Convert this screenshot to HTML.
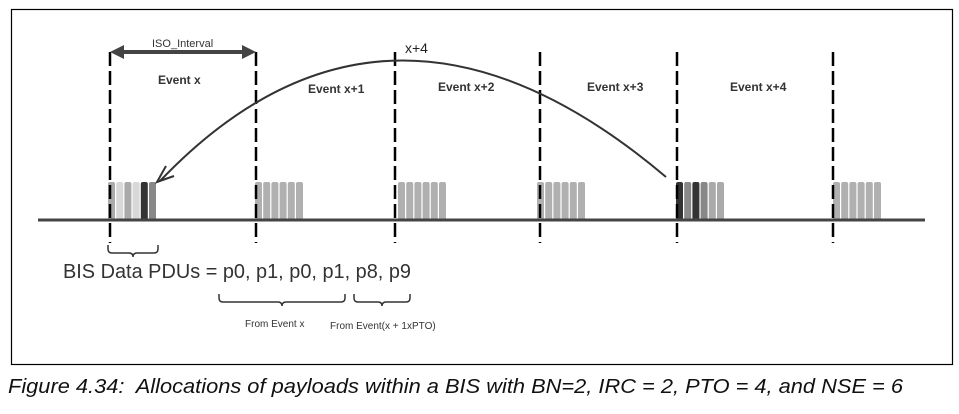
<!DOCTYPE html>
<html><head><meta charset="utf-8"><style>
body{margin:0;background:#fff}
svg{display:block;font-family:"Liberation Sans",sans-serif}
text{white-space:pre}
</style></head><body>
<svg width="959" height="414" viewBox="0 0 959 414">
<rect x="11.5" y="9.5" width="941" height="355" fill="none" stroke="#000" stroke-width="1.2"/>
<g id="bars"></g>
<line x1="38" y1="220" x2="925" y2="220" stroke="#444" stroke-width="3"/>
<g id="dashes"></g>
<g>
<line x1="120" y1="52" x2="246" y2="52" stroke="#444" stroke-width="4"/>
<polygon points="110,52 124,45 124,59" fill="#444"/>
<polygon points="256,52 242,45 242,59" fill="#444"/>
</g>
<text x="152" y="47" font-size="11" fill="#333">ISO_Interval</text>
<g font-size="12" font-weight="bold" fill="#333">
<text x="158" y="84">Event x</text>
<text x="308" y="93">Event x+1</text>
<text x="438" y="91">Event x+2</text>
<text x="587" y="91">Event x+3</text>
<text x="730" y="91">Event x+4</text>
</g>
<text x="405" y="53" font-size="14" fill="#222">x+4</text>
<path d="M666,177 Q388,-58 160,181" fill="none" stroke="#333" stroke-width="2"/>
<polyline points="166,166 157,182 174,176" fill="none" stroke="#333" stroke-width="2"/>
<path d="M108,245 v4 q0,4 4,4 h17 q4,0 4,4 q0,-4 4,-4 h17 q4,0 4,-4 v-4" fill="none" stroke="#333" stroke-width="1.5"/>
<text x="63" y="278" font-size="20" fill="#333" textLength="348" lengthAdjust="spacingAndGlyphs">BIS Data PDUs = p0, p1, p0, p1, p8, p9</text>
<path d="M219,294 v4 q0,4 4,4 h55 q4,0 4,4 q0,-4 4,-4 h55 q4,0 4,-4 v-4" fill="none" stroke="#333" stroke-width="1.5"/>
<path d="M354,294 v4 q0,4 4,4 h20 q4,0 4,4 q0,-4 4,-4 h20 q4,0 4,-4 v-4" fill="none" stroke="#333" stroke-width="1.5"/>
<text x="245" y="327" font-size="10" fill="#333">From Event x</text>
<text x="330" y="329" font-size="10" fill="#333">From Event(x + 1xPTO)</text>
<text x="8" y="393" font-size="20" font-style="italic" fill="#111" textLength="895" lengthAdjust="spacingAndGlyphs">Figure 4.34:  Allocations of payloads within a BIS with BN=2, IRC = 2, PTO = 4, and NSE = 6</text>
</svg>
<script>
const groupStarts = [108, 255, 398, 537, 676, 833];
const dashXs = [110, 256, 395, 540, 677, 833];
const groupColors = [
 ["#aaa","#d8d8d8","#aaa","#d8d8d8","#333","#888"],
 ["#b0b0b0","#b0b0b0","#b0b0b0","#b0b0b0","#b0b0b0","#b0b0b0"],
 ["#b0b0b0","#b0b0b0","#b0b0b0","#b0b0b0","#b0b0b0","#b0b0b0"],
 ["#b0b0b0","#b0b0b0","#b0b0b0","#b0b0b0","#b0b0b0","#b0b0b0"],
 ["#333","#888","#333","#888","#aaa","#aaa"],
 ["#b0b0b0","#b0b0b0","#b0b0b0","#b0b0b0","#b0b0b0","#b0b0b0"]
];
const NS="http://www.w3.org/2000/svg";
const bars=document.getElementById('bars');
groupStarts.forEach((gx,g)=>{
 groupColors[g].forEach((c,i)=>{
  const r=document.createElementNS(NS,'rect');
  r.setAttribute('x',gx+i*8.2);r.setAttribute('y',182);
  r.setAttribute('width',7);r.setAttribute('height',39);
  r.setAttribute('rx',2);r.setAttribute('fill',c);
  
  
  bars.appendChild(r);
 });
});
const dashes=document.getElementById('dashes');
dashXs.forEach(x=>{
 const l=document.createElementNS(NS,'line');
 l.setAttribute('x1',x);l.setAttribute('x2',x);
 l.setAttribute('y1',52);l.setAttribute('y2',243);
 l.setAttribute('stroke','#000');l.setAttribute('stroke-width',2.5);
 l.setAttribute('stroke-dasharray','14 5');
 
 
 dashes.appendChild(l);
});
</script>
</body></html>
